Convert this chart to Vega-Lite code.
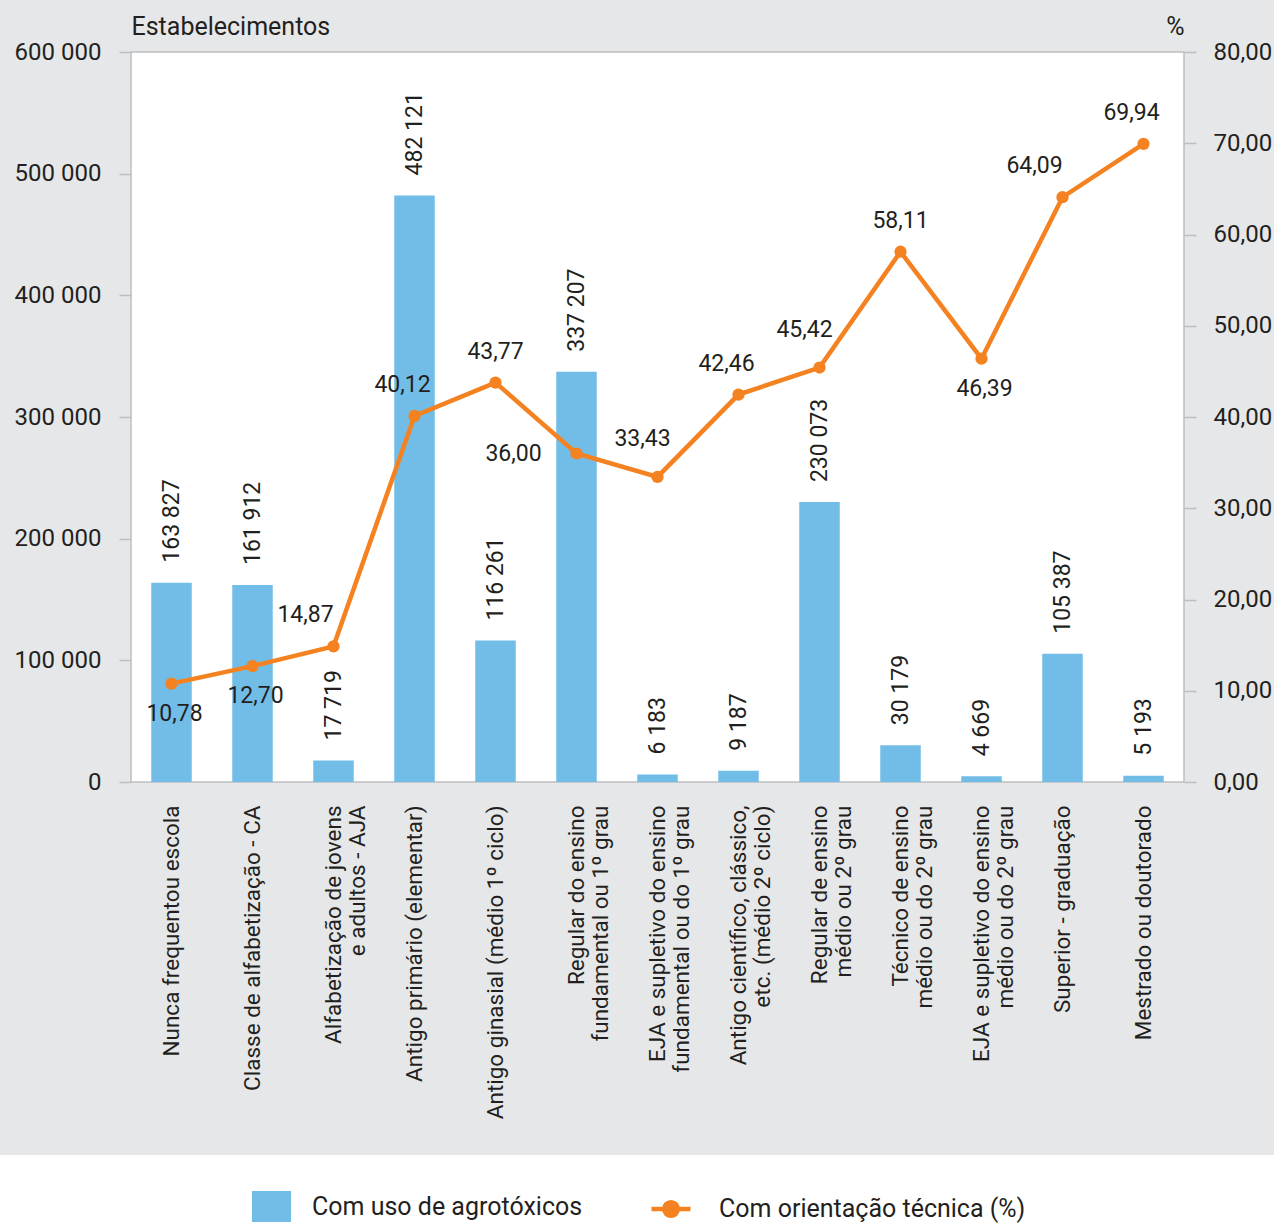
{
  "$schema": "https://vega.github.io/schema/vega-lite/v6.json",
  "background": "#e6e7e8",
  "padding": {"left": 0, "top": 13, "right": 0, "bottom": 0},
  "config": {
    "font": "Roboto",
    "locale": {"number": {"decimal": ",", "thousands": " ", "grouping": [3], "currency": ["", ""]}},
    "view": {"stroke": null},
    "axis": {"labelColor": "#231f20", "titleColor": "#231f20", "labelFont": "Roboto", "titleFont": "Roboto", "grid": false, "domain": false, "tickColor": "#bcbec0", "tickWidth": 1.5},
    "legend": {"labelColor": "#231f20", "labelFont": "Roboto"}
  },
  "datasets": {
    "d": [
      {"cat": "Nunca frequentou escola", "est": 163827, "pct": 10.78},
      {"cat": "Classe de alfabetização - CA", "est": 161912, "pct": 12.70},
      {"cat": "Alfabetização de jovens|e adultos - AJA", "est": 17719, "pct": 14.87},
      {"cat": "Antigo primário (elementar)", "est": 482121, "pct": 40.12},
      {"cat": "Antigo ginasial (médio 1º ciclo)", "est": 116261, "pct": 43.77},
      {"cat": "Regular do ensino|fundamental ou 1º grau", "est": 337207, "pct": 36.00},
      {"cat": "EJA e supletivo do ensino|fundamental ou do 1º grau", "est": 6183, "pct": 33.43},
      {"cat": "Antigo científico, clássico,|etc. (médio 2º ciclo)", "est": 9187, "pct": 42.46},
      {"cat": "Regular de ensino|médio ou 2º grau", "est": 230073, "pct": 45.42},
      {"cat": "Técnico de ensino|médio ou do 2º grau", "est": 30179, "pct": 58.11},
      {"cat": "EJA e supletivo do ensino|médio ou do 2º grau", "est": 4669, "pct": 46.39},
      {"cat": "Superior - graduação", "est": 105387, "pct": 64.09},
      {"cat": "Mestrado ou doutorado", "est": 5193, "pct": 69.94}
    ]
  },
  "spacing": 35,
  "resolve": {"scale": {"fill": "shared", "stroke": "shared"}, "legend": {"fill": "shared", "stroke": "shared"}},
  "vconcat": [
    {
      "spacing": 0,
      "resolve": {"scale": {"fill": "shared", "stroke": "shared"}, "legend": {"fill": "shared", "stroke": "shared"}},
      "hconcat": [
        {"width": 13, "height": 730, "data": {"values": []}, "mark": "point"},
        {
          "width": 1053,
          "height": 730,
          "data": {"name": "d"},
          "view": {"fill": "white", "stroke": "#bcbec0", "strokeWidth": 1.5},
          "encoding": {
            "x": {
              "field": "cat", "type": "nominal", "sort": null,
              "scale": {"paddingInner": 0.5, "paddingOuter": 0.25},
              "axis": {"title": null, "labelAngle": -90, "labelAlign": "right", "labelBaseline": "middle", "labelFontSize": 22.5, "labelLineHeight": 24, "labelPadding": 23, "ticks": false, "tickSize": 0, "labelLimit": 600, "labelOverlap": false, "labelExpr": "split(datum.label, '|')"}
            }
          },
          "layer": [
            {
              "encoding": {
                "y": {
                  "field": "est", "type": "quantitative",
                  "scale": {"domain": [0, 600000], "nice": false},
                  "axis": {"orient": "left", "title": "Estabelecimentos", "titleAngle": 0, "titleAlign": "left", "titleBaseline": "alphabetic", "titleX": 0, "titleY": -18, "titleFontSize": 25, "titleFontWeight": "normal", "values": [0, 100000, 200000, 300000, 400000, 500000, 600000], "format": ",d", "labelFontSize": 24, "tickSize": 12, "labelPadding": 18}
                }
              },
              "layer": [
                {
                  "mark": {"type": "bar"},
                  "encoding": {
                    "fill": {
                      "datum": "Com uso de agrotóxicos", "type": "nominal",
                      "scale": {"range": ["#72bde8"]},
                      "legend": {"title": null, "orient": "none", "legendX": 252, "legendY": 1135, "symbolType": "M-1,-0.8H1V0.8H-1Z", "symbolSize": 1521, "symbolStrokeWidth": 0, "labelFontSize": 25, "labelOffset": 21, "padding": 0, "labelLimit": 600}
                    }
                  }
                },
                {
                  "mark": {"type": "text", "angle": 270, "align": "left", "baseline": "middle", "dx": 20, "fontSize": 23, "color": "#231f20"},
                  "encoding": {"text": {"field": "est", "type": "quantitative", "format": ",d"}}
                }
              ]
            },
            {
              "encoding": {
                "y": {
                  "field": "pct", "type": "quantitative",
                  "scale": {"domain": [0, 80], "nice": false},
                  "axis": {"orient": "right", "title": "%", "titleAngle": 0, "titleAlign": "right", "titleBaseline": "alphabetic", "titleX": 0, "titleY": -18, "titleFontSize": 25, "titleFontWeight": "normal", "values": [0, 10, 20, 30, 40, 50, 60, 70, 80], "format": ".2f", "labelFontSize": 24, "tickSize": 12, "labelPadding": 17}
                }
              },
              "layer": [
                {
                  "mark": {"type": "line", "strokeWidth": 4.5},
                  "encoding": {
                    "stroke": {
                      "datum": "Com orientação técnica (%)", "type": "nominal",
                      "scale": {"range": ["#f58220"]},
                      "legend": {"title": null, "orient": "none", "legendX": 649, "legendY": 1135, "symbolType": "M-1,0H1M0.35,0A0.35,0.35,0,1,1,-0.35,0A0.35,0.35,0,1,1,0.35,0Z", "symbolSize": 1521, "symbolStrokeWidth": 4.5, "symbolFillColor": "#f58220", "labelFontSize": 25, "labelOffset": 26, "padding": 0, "labelLimit": 600, "encode": {"symbols": {"update": {"fill": {"value": "#f58220"}}}}}
                    }
                  }
                },
                {"mark": {"type": "point", "filled": true, "size": 150, "opacity": 1, "color": "#f58220"}},
                {
                  "transform": [{"filter": {"field": "pct", "oneOf": [40.12, 42.46, 69.94]}}],
                  "mark": {"type": "text", "fontSize": 23, "dx": -12, "dy": -31, "color": "#231f20"},
                  "encoding": {"text": {"field": "pct", "type": "quantitative", "format": ".2f"}}
                },
                {
                  "transform": [{"filter": {"field": "pct", "oneOf": [43.77, 58.11]}}],
                  "mark": {"type": "text", "fontSize": 23, "dx": 0, "dy": -31, "color": "#231f20"},
                  "encoding": {"text": {"field": "pct", "type": "quantitative", "format": ".2f"}}
                },
                {
                  "transform": [{"filter": {"field": "pct", "oneOf": [33.43, 45.42]}}],
                  "mark": {"type": "text", "fontSize": 23, "dx": -15, "dy": -38, "color": "#231f20"},
                  "encoding": {"text": {"field": "pct", "type": "quantitative", "format": ".2f"}}
                },
                {
                  "transform": [{"filter": {"field": "pct", "oneOf": [14.87, 64.09]}}],
                  "mark": {"type": "text", "fontSize": 23, "dx": -28, "dy": -31, "color": "#231f20"},
                  "encoding": {"text": {"field": "pct", "type": "quantitative", "format": ".2f"}}
                },
                {
                  "transform": [{"filter": {"field": "pct", "oneOf": [10.78, 12.7, 46.39]}}],
                  "mark": {"type": "text", "fontSize": 23, "dx": 3, "dy": 30, "color": "#231f20"},
                  "encoding": {"text": {"field": "pct", "type": "quantitative", "format": ".2f"}}
                },
                {
                  "transform": [{"filter": {"field": "pct", "oneOf": [36]}}],
                  "mark": {"type": "text", "fontSize": 23, "dx": -63, "dy": 0, "color": "#231f20"},
                  "encoding": {"text": {"field": "pct", "type": "quantitative", "format": ".2f"}}
                }
              ]
            }
          ],
          "resolve": {"scale": {"y": "independent"}, "axis": {"y": "independent"}}
        }
      ]
    },
    {"width": 1274, "height": 110, "data": {"values": []}, "mark": "point", "view": {"fill": "white", "stroke": null}}
  ]
}
